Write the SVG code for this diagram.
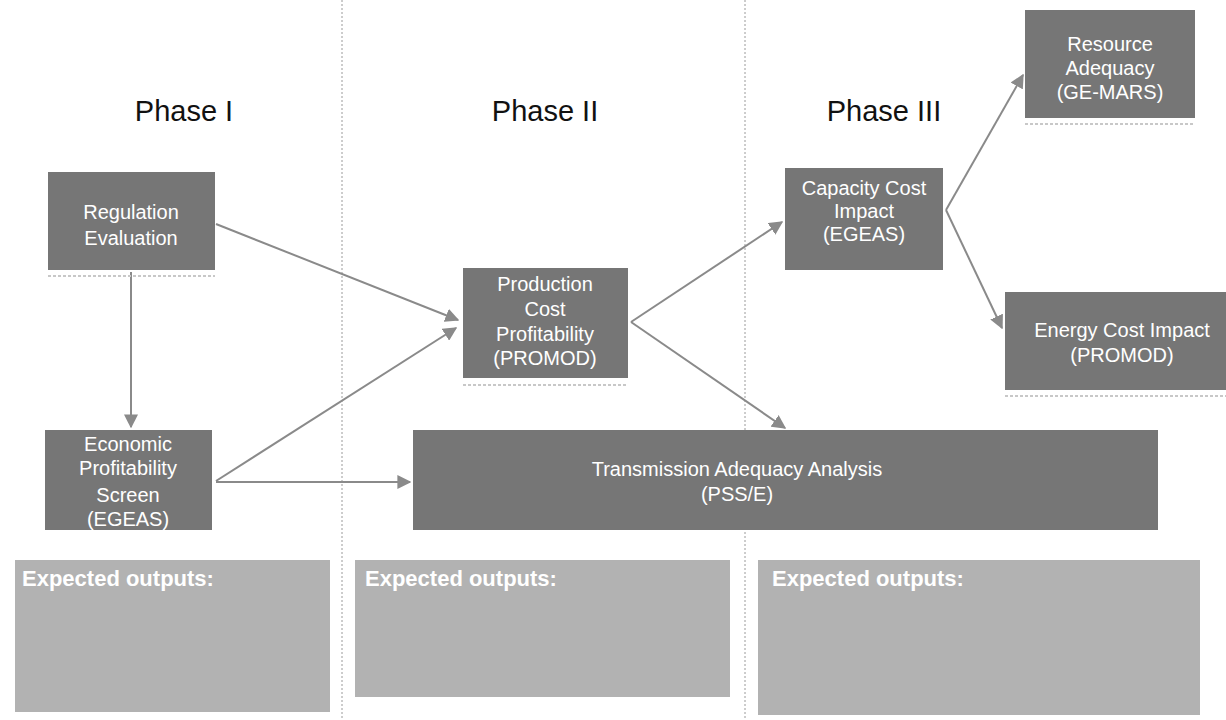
<svg xmlns="http://www.w3.org/2000/svg" width="1226" height="720" viewBox="0 0 1226 720">
<style>
.node{fill:#767676;}
.out{fill:#b2b2b2;}
.shadow{stroke:#c8c8c8;stroke-width:2;stroke-dasharray:3 2;}
.nt{font-family:"Liberation Sans Narrow","Liberation Sans",Arial,sans-serif;font-size:20px;fill:#ffffff;text-anchor:middle;}
.ph{font-family:"Liberation Sans",Arial,sans-serif;font-size:29px;fill:#111111;text-anchor:middle;}
.ot{font-family:"Liberation Sans",Arial,sans-serif;font-size:22px;font-weight:bold;fill:#ffffff;}
.div{stroke:#9a9a9a;stroke-width:1;stroke-dasharray:2 2;}
.con{stroke:#8a8a8a;stroke-width:2;fill:none;marker-end:url(#ah);}
</style>
<defs>
<marker id="ah" viewBox="0 0 10 10" refX="9" refY="5" markerWidth="7" markerHeight="7" orient="auto-start-reverse">
<path d="M0,0 L10,5 L0,10 z" fill="#8a8a8a"/>
</marker>
</defs>
<rect width="1226" height="720" fill="#ffffff"/>
<g id="dividers">
<line class="div" x1="342" y1="0" x2="342" y2="720"/>
<line class="div" x1="745" y1="0" x2="745" y2="720"/>
</g>
<g id="phases">
<text class="ph" x="184" y="121">Phase I</text>
<text class="ph" x="545" y="121">Phase II</text>
<text class="ph" x="884" y="121">Phase III</text>
</g>
<g id="connectors">
<line class="con" x1="216" y1="224" x2="458" y2="320"/>
<line class="con" x1="131" y1="272" x2="131" y2="427"/>
<line class="con" x1="216" y1="481" x2="456" y2="328"/>
<line class="con" x1="216" y1="482" x2="410" y2="482"/>
<line class="con" x1="631" y1="322" x2="782" y2="222"/>
<line class="con" x1="631" y1="322" x2="785" y2="428"/>
<line class="con" x1="946" y1="210" x2="1023" y2="75"/>
<line class="con" x1="946" y1="210" x2="1002" y2="328"/>
</g>
<g id="regulation">
<rect class="node" x="48" y="172" width="167" height="98"/>
<line class="shadow" x1="48" y1="276" x2="215" y2="276"/>
<text class="nt" x="131" y="219">Regulation</text>
<text class="nt" x="131" y="245">Evaluation</text>
</g>
<g id="economic">
<rect class="node" x="45" y="430" width="167" height="100"/>
<text class="nt" x="128" y="451">Economic</text>
<text class="nt" x="128" y="475">Profitability</text>
<text class="nt" x="128" y="502">Screen</text>
<text class="nt" x="128" y="526">(EGEAS)</text>
</g>
<g id="production">
<rect class="node" x="463" y="268" width="165" height="110"/>
<line class="shadow" x1="463" y1="385" x2="628" y2="385"/>
<text class="nt" x="545" y="291">Production</text>
<text class="nt" x="545" y="316">Cost</text>
<text class="nt" x="545" y="341">Profitability</text>
<text class="nt" x="545" y="365">(PROMOD)</text>
</g>
<g id="capacity">
<rect class="node" x="785" y="168" width="158" height="102"/>
<text class="nt" x="864" y="195">Capacity Cost</text>
<text class="nt" x="864" y="218">Impact</text>
<text class="nt" x="864" y="241">(EGEAS)</text>
</g>
<g id="resource">
<rect class="node" x="1025" y="10" width="170" height="108"/>
<line class="shadow" x1="1025" y1="124" x2="1195" y2="124"/>
<text class="nt" x="1110" y="51">Resource</text>
<text class="nt" x="1110" y="75">Adequacy</text>
<text class="nt" x="1110" y="99">(GE-MARS)</text>
</g>
<g id="energy">
<rect class="node" x="1005" y="292" width="221" height="98"/>
<line class="shadow" x1="1005" y1="396" x2="1226" y2="396"/>
<text class="nt" x="1122" y="337">Energy Cost Impact</text>
<text class="nt" x="1122" y="362">(PROMOD)</text>
</g>
<g id="transmission">
<rect class="node" x="413" y="430" width="745" height="100"/>
<text class="nt" x="737" y="476">Transmission Adequacy Analysis</text>
<text class="nt" x="737" y="501">(PSS/E)</text>
</g>
<g id="outputs1">
<rect class="out" x="15" y="560" width="315" height="152"/>
<text class="ot" x="22" y="586">Expected outputs:</text>
</g>
<g id="outputs2">
<rect class="out" x="355" y="560" width="375" height="137"/>
<text class="ot" x="365" y="586">Expected outputs:</text>
</g>
<g id="outputs3">
<rect class="out" x="758" y="560" width="442" height="155"/>
<text class="ot" x="772" y="586">Expected outputs:</text>
</g>
</svg>
